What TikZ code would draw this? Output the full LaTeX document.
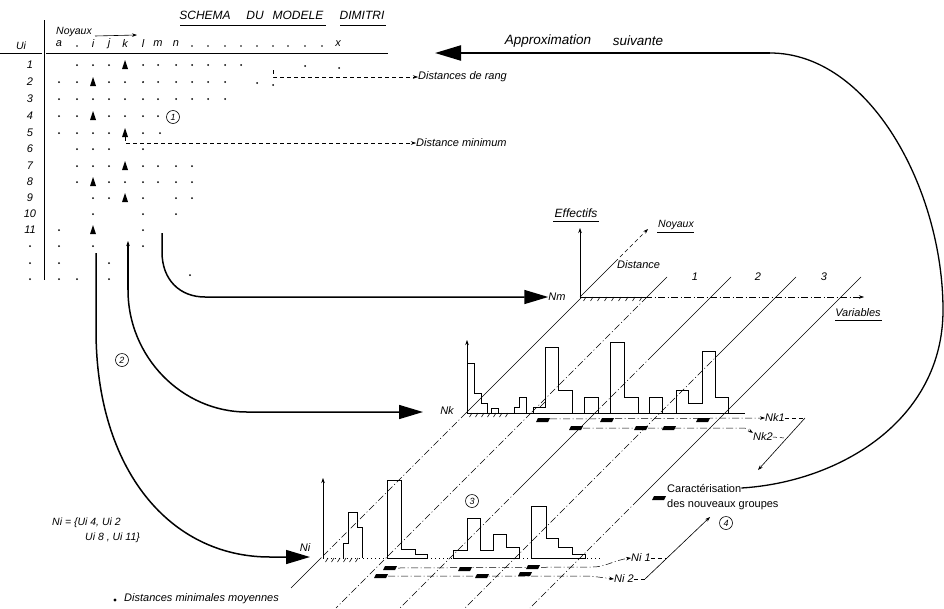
\documentclass[tikz,border=0pt]{standalone}
\usepackage{fontspec}
\setmainfont{Liberation Sans}
\usetikzlibrary{arrows.meta}
\newcommand\dgl[4]{\draw[#1] ({#2-#3},#3) -- ({#2-#4},#4);}
\newcommand\mkr[2]{\fill ({#1-7},{#2+2}) -- ({#1+5},{#2+2}) -- ({#1+7},{#2-2}) -- ({#1-5},{#2-2}) -- cycle;}
\newcommand\tri[2]{\fill ({#1-3},{#2+4}) -- (#1,{#2-5}) -- ({#1+3},{#2+4}) -- cycle;}
\begin{document}
\begin{tikzpicture}[x=1pt,y=-1pt,
 sA/.style={inner sep=0pt,font=\itshape\fontsize{11}{12}\selectfont},
 sB/.style={inner sep=0pt,font=\itshape\fontsize{10.5}{11}\selectfont},
 sC/.style={inner sep=0pt,font=\itshape\fontsize{11}{12}\selectfont},
 sD/.style={inner sep=0pt,font=\itshape\fontsize{12}{13}\selectfont},
 sE/.style={inner sep=0pt,font=\itshape\fontsize{13.5}{15}\selectfont},
 up/.style={inner sep=0pt,font=\fontsize{11}{12}\selectfont},
 ln/.style={line width=0.6pt},
 dd/.style={line width=0.5pt,dash pattern=on 7pt off 2.5pt on 1pt off 2.5pt},
 dsh/.style={line width=0.5pt,dash pattern=on 4pt off 3pt},
 dotl/.style={line width=0.6pt,dash pattern=on 1pt off 3pt},
 hst/.style={line width=0.9pt,line join=miter},
 bigarrow/.style={line width=1.5pt,-{Triangle[length=24pt,width=14pt]}},
 sm/.style={-{Stealth[length=5pt,width=3.5pt]}},
 num/.style={circle,draw,line width=0.6pt,minimum size=13pt,inner sep=0pt,font=\itshape\fontsize{9}{9}\selectfont}]
\useasboundingbox[fill=white] (0,0) rectangle (944,608);

% ---------------- title and table header
\node[sD] (t1) at (205,15) {SCHEMA};
\node[sD] (t2) at (255,15) {DU};
\node[sD] (t3) at (298,15) {MODELE};
\node[sD] (t4) at (362,15) {DIMITRI};
\draw[ln] (180,25) -- (326,25);
\draw[ln] (340,25) -- (386,25);
\node[sB] (ui) at (21,46) {Ui};
\draw[ln] (0,53) -- (42,53);
\draw[ln] (46,53) -- (388,53);
\draw[line width=0.8pt] (44,20) -- (44,280);
\node[sB] (noy) at (74,32) {Noyaux};
\draw[ln,sm] (95,36) -- (137,35);
\foreach \c/\x in {a/59,i/93,j/109,k/125,l/143,m/158,n/176,x/338}
  \node[sA] (c\c) at (\x,44) {\c};
\foreach \x in {77,192,208,225,241,257,273,288,305,322}
  \fill (\x,46) circle (0.9);
\foreach \r/\y in {1/65,2/82,3/99,4/116,5/133,6/149,7/166,8/182,9/198,10/214,11/230}
  \node[sA] (r\r) at (30,\y) {\r};
\foreach \y in {246,263,279} \fill (30,\y) circle (1);

% ---------------- table dots and triangles
\foreach \x/\y in {77/65,93/65,109/65,143/65,158/65,176/65,192/65,208/65,225/65,241/65,305/66,339/68,
 59/82,77/82,109/82,125/82,143/82,158/82,176/82,192/82,208/82,225/82,257/83,273/85,
 59/99,77/99,93/99,109/99,125/99,143/99,158/99,176/99,192/99,208/99,225/99,
 59/116,77/116,109/116,125/116,143/116,158/116,
 59/133,77/133,93/133,109/133,143/133,160/133,
 77/149,93/149,109/149,143/149,
 77/166,93/166,109/166,143/166,158/166,176/166,192/166,
 77/182,109/182,125/182,143/182,158/182,176/182,192/182,
 93/198,109/198,143/198,176/198,192/198,
 93/214,143/214,176/214,
 59/230,143/230,
 59/246,93/246,143/246,
 59/263,109/263,
 59/279,77/279,109/279,190/275}
  \fill (\x,\y) circle (1);
\tri{125}{65}\tri{93}{82}\tri{93}{116}\tri{125}{133}\tri{125}{166}\tri{93}{182}\tri{125}{198}\tri{93}{230}
\node[num] (n1) at (173,117) {1};

% distances labels
\node[sC,anchor=west] (dr) at (418,77) {Distances de rang};
\draw[dsh,sm] (273,70) -- (273,77) -- (dr.west);
\node[sC,anchor=west] (dm) at (416,143) {Distance minimum};
\draw[dsh,sm] (125,137) -- (125,143) -- (dm.west);

% ---------------- approximation suivante
\node[sE] (ap1) at (548,41) {Approximation};
\node[sE] (ap2) at (638,41) {suivante};
\coordinate (apt) at (435,53);

% ---------------- top plane (Nm)
\coordinate (o1) at (580,297);
\node[sC] (nm) at (557,297) {Nm};
\draw[ln,sm] (o1) -- (580,228);
\node[sD] (eff) at (576,213) {Effectifs};
\draw[ln] (553,221) -- (599,221);
\draw[ln] (o1) -- (615,262);
\draw[dsh,sm] (615,262) -- (648,229);
\node[sB] (noy2) at (676,225) {Noyaux};
\draw[ln] (657,232) -- (694,232);
\node[sC,anchor=west] (dist) at (617,265) {Distance};
\draw[line width=1pt] (o1) -- (645,297);
\foreach \x in {586,593,...,642} \draw[ln] (\x,297) -- ({\x-2.5},301);
\draw[dd,sm] (645,297) -- (864,297);
\node[sC] (var) at (858,313) {Variables};
\draw[ln] (835,320) -- (882,320);
\node[sC] (v1) at (695,277) {1};
\node[sC] (v2) at (758,277) {2};
\node[sC] (v3) at (824,277) {3};

% ---------------- diagonal lines (x+y = const)
\dgl{ln}{879}{297}{413}
\dgl{dd}{879}{413}{558}
\dgl{ln}{879}{558}{588}
\dgl{ln}{944}{277}{297}
\dgl{dd}{944}{297}{413}
\dgl{dd}{944}{413}{608}
\dgl{ln}{1008}{277}{355}
\dgl{dd}{1008}{355}{413}
\dgl{ln}{1008}{413}{490}
\dgl{dd}{1008}{490}{608}
\dgl{ln}{1073}{277}{352}
\dgl{dd}{1073}{352}{608}
\dgl{ln}{1138}{277}{500}
\dgl{dd}{1138}{500}{608}

% ---------------- middle plane (Nk)
\coordinate (o2) at (467,413);
\node[sC] (nk) at (447,411) {Nk};
\draw[ln,sm] (o2) -- (467,340);
\draw[ln] (o2) -- (745,413);
\foreach \x in {472,478,...,510} \draw[ln] (\x,413) -- ({\x-2.5},417);
\draw[hst] (467,363) -- (474,363) -- (474,393) -- (481,393) -- (481,403) -- (487,403) -- (487,413);
\draw[ln] (491,413) -- (491,408) -- (498,408) -- (498,413);
\draw[hst] (514,413) -- (514,407) -- (519,407) -- (519,397) -- (526,397) -- (526,413);
\draw[hst] (533,413) -- (533,407) -- (545,407) -- (545,347) -- (558,347) -- (558,390) -- (572,390) -- (572,413);
\draw[ln] (540,407) -- (545,402);
\draw[hst] (584,413) -- (584,397) -- (598,397) -- (598,413);
\draw[hst] (610,413) -- (610,342) -- (624,342) -- (624,397) -- (638,397) -- (638,413);
\draw[hst] (649,413) -- (649,397) -- (662,397) -- (662,413);
\draw[hst] (676,413) -- (676,390) -- (688,390) -- (688,403) -- (702,403) -- (702,351) -- (715,351) -- (715,397) -- (728,397) -- (728,413);
\node[sA,anchor=west] (nk1) at (765,418) {Nk1};
\node[sA,anchor=west] (nk2) at (753,437) {Nk2};
\draw[dd,sm] (537,419) -- (nk1.west);
\draw[dd,sm] (570,428) -- (745,428) -- (nk2.north west);
\coordinate (c1) at (805,418);
\coordinate (c1e) at (758,470);
\draw[dsh] (nk1.east) -- (c1);
\draw[dsh] (nk2.east) -- (785,438);
\draw[ln,sm] (c1) -- (c1e);
\mkr{543}{420}\mkr{607}{420}\mkr{703}{420}
\mkr{576}{428}\mkr{641}{428}\mkr{669}{428}

% ---------------- bottom plane (Ni)
\coordinate (o3) at (323,558);
\node[sA] (ni) at (305,548) {Ni};
\draw[ln,sm] (o3) -- (323,478);
\draw[dotl] (o3) -- (600,558);
\foreach \x in {328,334,...,362} \draw[ln] (\x,558) -- ({\x-2.5},562);
\draw[hst] (343,558) -- (343,543) -- (348,543) -- (348,512) -- (357,512) -- (357,527) -- (362,527) -- (362,558);
\draw[hst] (387,558) -- (387,480) -- (401,480) -- (401,549) -- (415,549) -- (415,554) -- (427,554) -- (427,558) -- cycle;
\draw[hst] (453,558) -- (453,550) -- (467,550) -- (467,518) -- (480,518) -- (480,550) -- (493,550) -- (493,534) -- (506,534) -- (506,547) -- (519,547) -- (519,558) -- cycle;
\draw[hst] (531,558) -- (531,506) -- (546,506) -- (546,538) -- (558,538) -- (558,547) -- (572,547) -- (572,554) -- (585,554) -- (585,558) -- cycle;
\node[num] (n3) at (472,501) {3};
\node[sA,anchor=west] (ni1) at (631,558) {Ni 1};
\node[sA,anchor=west] (ni2) at (614,579) {Ni 2};
\draw[dd,sm] (398,568) -- (593,567) .. controls (605,567) and (615,560) .. (ni1.west);
\draw[dd,sm] (388,576) -- (590,576) -- (ni2.west);
\coordinate (c2) at (645,579);
\coordinate (c2e) at (710,517);
\draw[dsh] (ni1.east) -- (667,558);
\draw[dsh] (ni2.east) -- (c2);
\draw[ln,sm] (c2) -- (c2e);
\mkr{390}{568}\mkr{465}{569}\mkr{533}{567}
\mkr{381}{576}\mkr{482}{576}\mkr{525}{574}

% ---------------- caracterisation
\node[up,anchor=west] (car) at (667,488) {Caractérisation};
\node[up,anchor=west] (grp) at (667,505) {des nouveaux groupes};
\mkr{659}{498}
\node[num] (n4) at (726,523) {4};

% ---------------- Ni set and legend
\node[sB,anchor=west] (nis) at (52,523) {Ni = \{Ui 4, Ui 2};
\node[sB,anchor=west] (nis2) at (85,538) {Ui 8 , Ui 11\}};
\fill (115,600) circle (1.6);
\node[sC,anchor=west] (leg) at (124,599) {Distances minimales moyennes};
\node[num] (n2) at (122,360) {2};

% ---------------- big connectors
\coordinate (pm) at (162,233);
\coordinate (pk) at (128,290);
\coordinate (pi) at (96,253);
\draw[bigarrow] (pm) -- (162,252) .. controls (162,280) and (180,297) .. (205,297) -- (nm.west);
\draw[line width=1.4pt,sm] (pk) -- (128,241);
\draw[bigarrow] (pk) .. controls (128,357) and (182,412) .. (247,412) -- (423,412);
\draw[bigarrow] (pi) -- (96,330) .. controls (96,470) and (170,557) .. (270,557) -- (310,557);
\draw[line width=1.3pt] (car.east) .. controls (840,482) and (943,420) .. (943,310) .. controls (943,190) and (870,53) .. (770,53);
\draw[line width=2.2pt,-{Triangle[length=26pt,width=15pt]}] (770,53) -- (apt);
\end{tikzpicture}
\end{document}
